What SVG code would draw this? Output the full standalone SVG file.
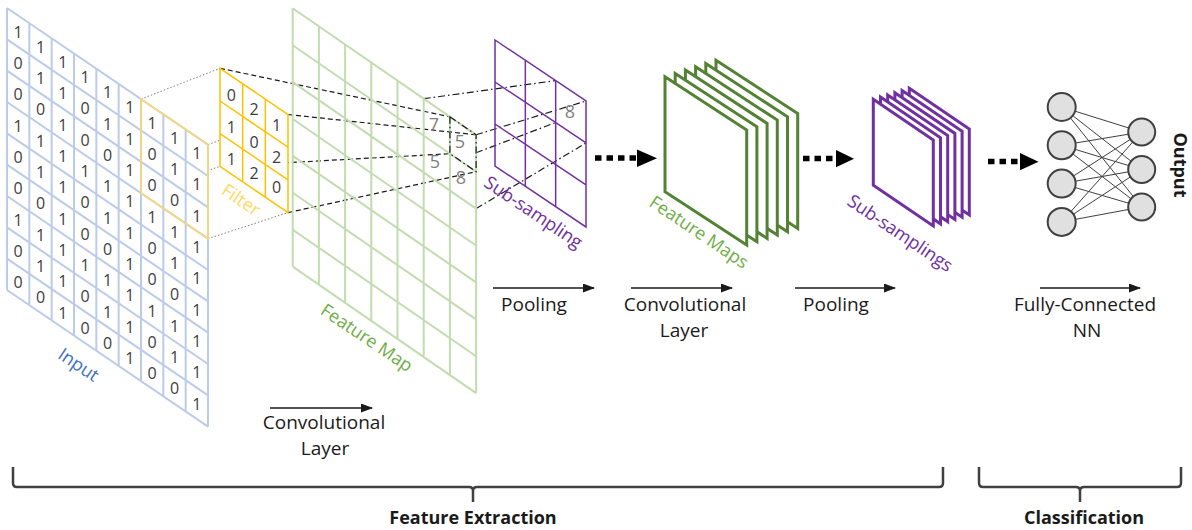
<svg xmlns="http://www.w3.org/2000/svg" width="1192" height="530" viewBox="0 0 1192 530">
<defs>
<marker id="ah" markerWidth="12" markerHeight="9" refX="11" refY="4.5" orient="auto" markerUnits="userSpaceOnUse"><path d="M0,0 L12,4.5 L0,9 z" fill="#1a1a1a"/></marker>
<style>
.dig{font-family:"Open Sans","DejaVu Sans",sans-serif;font-size:16px;fill:#404040;text-anchor:middle}
.fdig{font-family:"Open Sans","DejaVu Sans",sans-serif;font-size:16px;fill:#404040;text-anchor:middle}
.gnum{font-family:"Open Sans","DejaVu Sans",sans-serif;font-size:18px;fill:#7f7f7f;text-anchor:middle}
.lbl{font-family:"Open Sans","DejaVu Sans",sans-serif;font-size:19px;fill:#1a1a1a;text-anchor:middle}
.rot{font-family:"Open Sans","DejaVu Sans",sans-serif;font-size:18px;text-anchor:middle}
.bold{font-family:"Open Sans","DejaVu Sans",sans-serif;font-size:18px;font-weight:700;fill:#1a1a1a;text-anchor:middle}
.dot{stroke:#7f7f7f;stroke-width:1;stroke-dasharray:1.5 2;fill:none}
.dash{stroke:#1a1a1a;stroke-width:1.2;stroke-dasharray:5 3;fill:none}
.dd{stroke:#1a1a1a;stroke-width:1.2;stroke-dasharray:7 3 1.5 3;fill:none}
.thin{stroke:#1a1a1a;stroke-width:1.5;fill:none;marker-end:url(#ah)}
.fat{stroke:#000;stroke-width:5.5;stroke-dasharray:6.5 5;fill:none}
.nse{vector-effect:non-scaling-stroke}
.gsheet{fill:#fff;stroke:#548235;stroke-width:3}
.psheet{fill:#fff;stroke:#7030a0;stroke-width:3}
.nl{stroke:#404040;stroke-width:1}
.neuron{fill:#e0e0e0;stroke:#404040;stroke-width:2}
.brace{stroke:#404040;stroke-width:2.5;fill:none;stroke-linejoin:round}
</style>
</defs>

<g id="connectors">
  <line class="dot" x1="141" y1="99.1" x2="220" y2="68.3"/>
  <line class="dot" x1="208" y1="144.7" x2="288" y2="114.5"/>
  <line class="dot" x1="208" y1="238.7" x2="288" y2="212.6"/>
  <line class="dot" x1="141" y1="193.1" x2="220" y2="166.4"/>
  <line class="dash" x1="220" y1="68.3" x2="449.9" y2="116.8"/>
  <line class="dash" x1="288" y1="114.5" x2="476.1" y2="134.8"/>
  <line class="dash" x1="220" y1="166.4" x2="449.9" y2="153.7"/>
  <line class="dash" x1="288" y1="212.6" x2="476.1" y2="171.7"/>
  <line class="dd" x1="423.7" y1="98.7" x2="555.6" y2="80.6"/>
  <line class="dd" x1="476.1" y1="134.8" x2="586" y2="101"/>
  <line class="dd" x1="476.1" y1="208.6" x2="586" y2="143"/>
  <line class="dd" x1="476.1" y1="152.7" x2="555.6" y2="122.6"/>
  <line class="fat" x1="595" y1="158" x2="637" y2="158"/>
  <polygon points="637,149.5 657,158.3 637,167" fill="#000"/>
  <line class="fat" x1="803" y1="158.5" x2="836" y2="158.5"/>
  <polygon points="836,150 854,158.7 836,167.3" fill="#000"/>
  <line class="fat" x1="988" y1="161.5" x2="1020" y2="161.5"/>
  <polygon points="1020,153 1038.5,161.7 1020,170.3" fill="#000"/>
  <line class="thin" x1="270" y1="408" x2="372" y2="408"/>
  <line class="thin" x1="493" y1="288" x2="594" y2="288"/>
  <line class="thin" x1="631" y1="288" x2="732" y2="288"/>
  <line class="thin" x1="795" y1="288" x2="895" y2="288"/>
  <line class="thin" x1="1040" y1="288" x2="1140" y2="288"/>
</g>

<g id="input">
  <g transform="matrix(1,0.68,0,1,7,8)">
    <rect x="0" y="0" width="201" height="282" fill="#fff"/>
    <path class="nse" stroke="#bccbe9" stroke-width="2" fill="none" d="M0,0V282M22.333,0V282M44.667,0V282M67,0V282M89.333,0V282M111.667,0V282M134,0V282M156.333,0V282M178.667,0V282M201,0V282M0,0H201M0,31.333H201M0,62.667H201M0,94H201M0,125.333H201M0,156.667H201M0,188H201M0,219.333H201M0,250.667H201M0,282H201"/>
  </g>
  <polygon points="141,99.1 208,144.7 208,238.7 141,193.1" fill="none" stroke="#ffd966" stroke-width="1.5"/>
  <text class="dig" x="18.2" y="37.5">1</text><text class="dig" x="18.2" y="68.8">0</text><text class="dig" x="18.2" y="100.1">0</text><text class="dig" x="18.2" y="131.5">1</text><text class="dig" x="18.2" y="162.8">0</text><text class="dig" x="18.2" y="194.2">0</text><text class="dig" x="18.2" y="225.5">1</text><text class="dig" x="18.2" y="256.8">0</text><text class="dig" x="18.2" y="288.2">0</text>
  <text class="dig" x="40.5" y="52.6">1</text><text class="dig" x="40.5" y="84">1</text><text class="dig" x="40.5" y="115.3">0</text><text class="dig" x="40.5" y="146.6">1</text><text class="dig" x="40.5" y="178">1</text><text class="dig" x="40.5" y="209.3">0</text><text class="dig" x="40.5" y="240.6">1</text><text class="dig" x="40.5" y="272">1</text><text class="dig" x="40.5" y="303.3">0</text>
  <text class="dig" x="62.8" y="67.8">1</text><text class="dig" x="62.8" y="99.2">1</text><text class="dig" x="62.8" y="130.5">1</text><text class="dig" x="62.8" y="161.8">1</text><text class="dig" x="62.8" y="193.1">1</text><text class="dig" x="62.8" y="224.5">1</text><text class="dig" x="62.8" y="255.8">1</text><text class="dig" x="62.8" y="287.1">1</text><text class="dig" x="62.8" y="318.5">1</text>
  <text class="dig" x="85.2" y="83">1</text><text class="dig" x="85.2" y="114.3">0</text><text class="dig" x="85.2" y="145.7">0</text><text class="dig" x="85.2" y="177">1</text><text class="dig" x="85.2" y="208.3">0</text><text class="dig" x="85.2" y="239.7">0</text><text class="dig" x="85.2" y="271">1</text><text class="dig" x="85.2" y="302.3">0</text><text class="dig" x="85.2" y="333.7">0</text>
  <text class="dig" x="107.5" y="98.2">1</text><text class="dig" x="107.5" y="129.5">1</text><text class="dig" x="107.5" y="160.9">0</text><text class="dig" x="107.5" y="192.2">1</text><text class="dig" x="107.5" y="223.5">1</text><text class="dig" x="107.5" y="254.9">0</text><text class="dig" x="107.5" y="286.2">1</text><text class="dig" x="107.5" y="317.5">1</text><text class="dig" x="107.5" y="348.9">0</text>
  <text class="dig" x="129.8" y="113.4">1</text><text class="dig" x="129.8" y="144.7">1</text><text class="dig" x="129.8" y="176">1</text><text class="dig" x="129.8" y="207.4">1</text><text class="dig" x="129.8" y="238.7">1</text><text class="dig" x="129.8" y="270">1</text><text class="dig" x="129.8" y="301.4">1</text><text class="dig" x="129.8" y="332.7">1</text><text class="dig" x="129.8" y="364">1</text>
  <text class="dig" x="152.2" y="128.6">1</text><text class="dig" x="152.2" y="159.9">0</text><text class="dig" x="152.2" y="191.2">0</text><text class="dig" x="152.2" y="222.6">1</text><text class="dig" x="152.2" y="253.9">0</text><text class="dig" x="152.2" y="285.2">0</text><text class="dig" x="152.2" y="316.6">1</text><text class="dig" x="152.2" y="347.9">0</text><text class="dig" x="152.2" y="379.2">0</text>
  <text class="dig" x="174.5" y="143.8">1</text><text class="dig" x="174.5" y="175.1">1</text><text class="dig" x="174.5" y="206.4">0</text><text class="dig" x="174.5" y="237.8">1</text><text class="dig" x="174.5" y="269.1">1</text><text class="dig" x="174.5" y="300.4">0</text><text class="dig" x="174.5" y="331.8">1</text><text class="dig" x="174.5" y="363.1">1</text><text class="dig" x="174.5" y="394.4">0</text>
  <text class="dig" x="196.8" y="158.9">1</text><text class="dig" x="196.8" y="190.3">1</text><text class="dig" x="196.8" y="221.6">1</text><text class="dig" x="196.8" y="252.9">1</text><text class="dig" x="196.8" y="284.3">1</text><text class="dig" x="196.8" y="315.6">1</text><text class="dig" x="196.8" y="346.9">1</text><text class="dig" x="196.8" y="378.3">1</text><text class="dig" x="196.8" y="409.6">1</text>
  <text class="rot" fill="#4472c4" transform="translate(78.5,365) rotate(34)" x="0" y="6">Input</text>
</g>

<g id="filter">
  <g transform="matrix(1,0.68,0,1,220,68.3)">
    <rect x="0" y="0" width="68" height="98.1" fill="#fff"/>
    <path class="nse" stroke="#ffc000" stroke-width="1.5" fill="none" d="M0,0H68V98.1H0Z M22.667,0V98.1 M45.333,0V98.1 M0,32.7H68 M0,65.4H68"/>
  </g>
  <text class="fdig" x="231.3" y="100.5">0</text><text class="fdig" x="231.3" y="133.3">1</text><text class="fdig" x="231.3" y="164.5">1</text>
  <text class="fdig" x="254" y="115">2</text><text class="fdig" x="254" y="147.5">0</text><text class="fdig" x="254" y="179">2</text>
  <text class="fdig" x="276.7" y="130.5">1</text><text class="fdig" x="276.7" y="162.5">2</text><text class="fdig" x="276.7" y="193">0</text>
  <text class="rot" fill="#ffd966" font-size="17" transform="translate(241,200) rotate(34)" x="0" y="6">Filter</text>
</g>

<g id="feature-map">
  <g transform="matrix(1,0.69,0,1,292.7,8.3)">
    <path class="nse" stroke="#c2dcb0" stroke-width="2" fill="none" d="M0,0V258.3M26.2,0V258.3M52.4,0V258.3M78.6,0V258.3M104.8,0V258.3M131,0V258.3M157.2,0V258.3M183.4,0V258.3M0,0H183.4M0,36.9H183.4M0,73.8H183.4M0,110.7H183.4M0,147.6H183.4M0,184.5H183.4M0,221.4H183.4M0,258.3H183.4"/>
  </g>
  <polygon class="dd" points="449.9,116.8 476.1,134.8 476.1,171.7 449.9,153.7"/>
  <text class="gnum" x="434" y="131">7</text>
  <text class="gnum" x="460" y="147.5">5</text>
  <text class="gnum" x="435" y="168">5</text>
  <text class="gnum" x="461" y="184">8</text>
  <text class="rot" fill="#70ad47" transform="translate(366.7,338) rotate(34)" x="0" y="6">Feature Map</text>
</g>

<g id="sub-sampling">
  <g transform="matrix(1,0.67,0,1,495,40)">
    <path class="nse" stroke="#7030a0" stroke-width="1.5" fill="none" d="M0,0H91V126H0Z M30.333,0V126 M60.667,0V126 M0,42H91 M0,84H91"/>
  </g>
  <text class="gnum" x="570" y="118">8</text>
  <text class="rot" fill="#7030a0" transform="translate(533.3,212.3) rotate(34)" x="0" y="6">Sub-sampling</text>
</g>

<g id="feature-maps">
  <polygon class="gsheet" transform="translate(716,60.2)" points="0,0 81.7,53.3 81.7,168.3 0,115"/>
  <polygon class="gsheet" transform="translate(705.8,63.5)" points="0,0 81.7,53.3 81.7,168.3 0,115"/>
  <polygon class="gsheet" transform="translate(695.6,66.8)" points="0,0 81.7,53.3 81.7,168.3 0,115"/>
  <polygon class="gsheet" transform="translate(685.4,70.1)" points="0,0 81.7,53.3 81.7,168.3 0,115"/>
  <polygon class="gsheet" transform="translate(675.2,73.4)" points="0,0 81.7,53.3 81.7,168.3 0,115"/>
  <polygon class="gsheet" transform="translate(665,76.7)" points="0,0 81.7,53.3 81.7,168.3 0,115"/>
  <text class="rot" fill="#70ad47" transform="translate(699,232.3) rotate(34)" x="0" y="6">Feature Maps</text>
</g>

<g id="sub-samplings">
  <polygon class="psheet" transform="translate(909.3,88.3)" points="0,0 60,40.7 60,126.7 0,86"/>
  <polygon class="psheet" transform="translate(902.1,90.5)" points="0,0 60,40.7 60,126.7 0,86"/>
  <polygon class="psheet" transform="translate(894.9,92.7)" points="0,0 60,40.7 60,126.7 0,86"/>
  <polygon class="psheet" transform="translate(887.7,94.9)" points="0,0 60,40.7 60,126.7 0,86"/>
  <polygon class="psheet" transform="translate(880.5,97.1)" points="0,0 60,40.7 60,126.7 0,86"/>
  <polygon class="psheet" transform="translate(873.3,99.3)" points="0,0 60,40.7 60,126.7 0,86"/>
  <text class="rot" fill="#7030a0" transform="translate(900,233.3) rotate(34)" x="0" y="6">Sub-samplings</text>
</g>

<g id="fully-connected-nn">
  <g class="nl">
    <line x1="1061.7" y1="107" x2="1141.7" y2="132"/><line x1="1061.7" y1="107" x2="1141.7" y2="169.5"/><line x1="1061.7" y1="107" x2="1141.7" y2="207"/>
    <line x1="1061.7" y1="145.3" x2="1141.7" y2="132"/><line x1="1061.7" y1="145.3" x2="1141.7" y2="169.5"/><line x1="1061.7" y1="145.3" x2="1141.7" y2="207"/>
    <line x1="1061.7" y1="183.6" x2="1141.7" y2="132"/><line x1="1061.7" y1="183.6" x2="1141.7" y2="169.5"/><line x1="1061.7" y1="183.6" x2="1141.7" y2="207"/>
    <line x1="1061.7" y1="221.9" x2="1141.7" y2="132"/><line x1="1061.7" y1="221.9" x2="1141.7" y2="169.5"/><line x1="1061.7" y1="221.9" x2="1141.7" y2="207"/>
  </g>
  <circle class="neuron" cx="1061.7" cy="107" r="14"/>
  <circle class="neuron" cx="1061.7" cy="145.3" r="14"/>
  <circle class="neuron" cx="1061.7" cy="183.6" r="14"/>
  <circle class="neuron" cx="1061.7" cy="221.9" r="14"/>
  <circle class="neuron" cx="1141.7" cy="132" r="13.5"/>
  <circle class="neuron" cx="1141.7" cy="169.5" r="13.5"/>
  <circle class="neuron" cx="1141.7" cy="207" r="13.5"/>
  <text class="bold" transform="translate(1180,165) rotate(90)" x="0" y="6.3">Output</text>
</g>

<g id="step-labels">
  <text class="lbl" x="324" y="429">Convolutional</text>
  <text class="lbl" x="325" y="455">Layer</text>
  <text class="lbl" x="534" y="311">Pooling</text>
  <text class="lbl" x="685" y="311">Convolutional</text>
  <text class="lbl" x="684" y="337">Layer</text>
  <text class="lbl" x="836" y="311">Pooling</text>
  <text class="lbl" x="1085" y="311">Fully-Connected</text>
  <text class="lbl" x="1087" y="337">NN</text>
</g>

<g id="feature-extraction">
  <path class="brace" d="M13,467 V483 Q13,487 17,487 H469 Q473,487 473,491 V502 M473,491 Q473,487 477,487 H939 Q943,487 943,483 V467"/>
  <text class="bold" x="473" y="524">Feature Extraction</text>
</g>

<g id="classification">
  <path class="brace" d="M979,467 V483 Q979,487 983,487 H1076 Q1080,487 1080,491 V502 M1080,491 Q1080,487 1084,487 H1177 Q1181,487 1181,483 V467"/>
  <text class="bold" x="1084" y="524">Classification</text>
</g>
</svg>
